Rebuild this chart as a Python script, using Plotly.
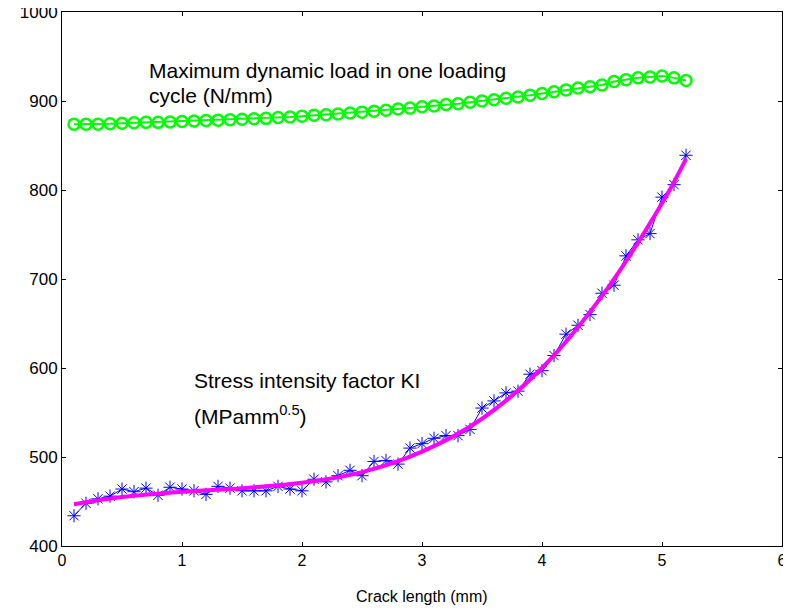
import plotly.graph_objects as go

crack_length = [round(0.1 * i, 1) for i in range(1, 53)]

max_load = [874, 874, 874, 874.5, 875, 875.5, 876, 876, 876.5, 877,
            877.5, 878, 878.5, 879, 879.5, 880, 880.5, 881.5, 882, 883,
            884, 884.5, 885.5, 886.5, 887.5, 888.5, 889.5, 891, 892, 893.5,
            894.5, 896, 897, 898.5, 900, 901.5, 903, 904.5, 906.5, 908.5,
            910.5, 912.5, 914.5, 916, 918, 922, 924, 926, 927, 928,
            926, 923]

ki_values = [434, 448, 453, 456, 464, 461, 465, 457, 466, 464,
             462, 458, 467, 465, 462, 462, 462, 467, 464, 462,
             475, 472, 479, 485, 479, 495, 496, 492, 510, 515,
             521, 524, 524, 531, 555, 563, 572, 574, 593, 597,
             614, 638, 648, 660, 684, 693, 726, 744, 751, 792,
             806, 839]

fit_x = [0.1, 0.5, 1.0, 1.5, 2.0, 2.5, 3.0, 3.5, 4.0, 4.5, 5.0, 5.2]
fit_y = [447, 455, 461, 465, 471, 483, 506, 543, 600, 681, 785, 835]

x_ticks = [0, 1, 2, 3, 4, 5, 6]
y_ticks = [400, 500, 600, 700, 800, 900, 1000]

fig = go.Figure()

fig.add_trace(go.Scatter(
    x=crack_length, y=max_load, mode="lines+markers",
    line=dict(color="#00FF00", width=2),
    marker=dict(symbol="circle-open", size=11, color="#00FF00",
                line=dict(color="#00FF00", width=2.5)),
    showlegend=False))

fig.add_trace(go.Scatter(
    x=crack_length, y=ki_values, mode="lines+markers",
    line=dict(color="#0000FF", width=1),
    marker=dict(symbol="asterisk-open", size=11, color="#0000FF",
                line=dict(color="#0000FF", width=1)),
    showlegend=False))

fig.add_trace(go.Scatter(
    x=fit_x, y=fit_y, mode="lines",
    line=dict(color="#FF00FF", width=4, shape="spline"),
    showlegend=False))

font_family = "Liberation Sans, Arial, sans-serif"

fig.add_annotation(x=0.71, y=934, xref="x", yref="y", xanchor="left", yanchor="middle",
                   text="Maximum dynamic load in one loading", showarrow=False,
                   font=dict(size=21, color="black", family=font_family))
fig.add_annotation(x=0.71, y=906, xref="x", yref="y", xanchor="left", yanchor="middle",
                   text="cycle (N/mm)", showarrow=False,
                   font=dict(size=21, color="black", family=font_family))
fig.add_annotation(x=1.08, y=586, xref="x", yref="y", xanchor="left", yanchor="middle",
                   text="Stress intensity factor KI", showarrow=False,
                   font=dict(size=21, color="black", family=font_family))
fig.add_annotation(x=1.08, y=547, xref="x", yref="y", xanchor="left", yanchor="middle",
                   text="(MPamm<sup>0.5</sup>)", showarrow=False,
                   font=dict(size=21, color="black", family=font_family))
fig.add_annotation(x=0.5, y=-0.094, xref="paper", yref="paper", xanchor="center", yanchor="middle",
                   text="Crack length (mm)", showarrow=False,
                   font=dict(size=16, color="black", family=font_family))

fig.update_layout(
    width=775, height=597,
    margin=dict(l=54, r=1, t=4, b=59),
    paper_bgcolor="white", plot_bgcolor="white",
    font=dict(family=font_family, color="black"),
)

fig.update_xaxes(
    range=[0, 6], tickvals=x_ticks, ticktext=[str(v) for v in x_ticks],
    showgrid=False, zeroline=False, showline=True, linecolor="black", linewidth=1,
    mirror="ticks", ticks="inside", ticklen=4, tickcolor="black",
    tickfont=dict(size=16, family=font_family), automargin=False,
    ticklabeloverflow="allow",
)
fig.update_yaxes(
    range=[400, 1000], tickvals=y_ticks, ticktext=[str(v) for v in y_ticks],
    showgrid=False, zeroline=False, showline=True, linecolor="black", linewidth=1,
    mirror="ticks", ticks="inside", ticklen=4, tickcolor="black",
    tickfont=dict(size=17, family=font_family), automargin=False,
    ticklabeloverflow="allow",
)

fig.write_html("out.html")
